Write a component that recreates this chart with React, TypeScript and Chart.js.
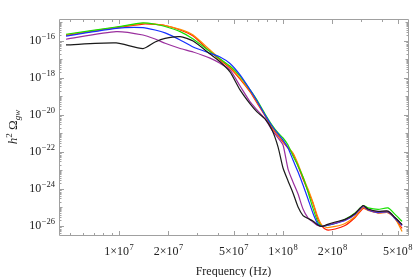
import React, { useEffect, useRef } from "react";
import { Chart, registerables } from "chart.js";

Chart.register(...registerables);

// Frequencies (Hz) of the sampled points
const frequencyHz = [
  4.75e6, 9.6e6, 1.4e7, 1.66e7, 1.91e7, 2.36e7, 2.83e7, 3.59e7, 4.13e7, 4.75e7,
  5.47e7, 6.3e7, 6.94e7, 7.77e7, 8.57e7, 9.33e7, 1.0e8, 1.073e8, 1.15e8, 1.235e8,
  1.324e8, 1.42e8, 1.52e8, 1.63e8, 1.73e8, 1.85e8, 2.08e8, 2.39e8, 2.75e8, 3.08e8,
  3.3e8, 3.8e8, 4.37e8, 4.82e8, 5.32e8,
];

// log10(h^2 Omega_gw), one array per curve
const redLog = [
  -15.71, -15.3, -15.1, -15.12, -15.18, -15.42, -15.75, -16.59, -17.04, -17.48,
  -18.07, -18.77, -19.37, -20.07, -20.72, -21.15, -21.48, -21.8, -22.12, -22.77,
  -23.48, -24.12, -24.77, -25.64, -26.04, -26.23, -26.18, -25.99, -25.56, -25.07,
  -25.15, -25.31, -25.29, -25.61, -26.15,
];
const orangeLog = [
  -15.68, -15.28, -15.06, -15.1, -15.18, -15.39, -15.69, -16.5, -16.99, -17.42,
  -18.02, -18.72, -19.31, -20.02, -20.66, -21.1, -21.43, -21.75, -22.07, -22.66,
  -23.37, -24.02, -24.72, -25.53, -25.99, -26.1, -26.04, -25.88, -25.5, -25.02,
  -25.18, -25.31, -25.29, -25.61, -26.31,
];
const greenLog = [
  -15.65, -15.26, -15.04, -15.11, -15.23, -15.51, -15.91, -16.59, -16.99, -17.37,
  -17.91, -18.66, -19.21, -19.96, -20.56, -20.99, -21.26, -21.64, -22.23, -22.77,
  -23.37, -24.18, -25.04, -25.8, -26.04, -25.99, -25.88, -25.66, -25.31, -24.91,
  -25.04, -25.12, -25.04, -25.39, -25.77,
];
const blueLog = [
  -15.75, -15.33, -15.29, -15.42, -15.58, -15.96, -16.34, -16.68, -16.88, -17.23,
  -17.85, -18.66, -19.26, -20.02, -20.61, -21.04, -21.37, -21.8, -22.45, -23.1,
  -23.8, -24.56, -25.31, -25.91, -26.04, -25.99, -25.88, -25.72, -25.39, -24.96,
  -25.15, -25.29, -25.26, -25.61, -25.99,
];
const purpleLog = [
  -15.92, -15.51, -15.69, -15.91, -16.14, -16.42, -16.61, -16.94, -17.22, -17.58,
  -18.45, -19.31, -19.74, -20.23, -20.83, -21.26, -21.64, -22.94, -23.64, -24.29,
  -25.1, -25.58, -25.8, -25.99, -26.04, -25.96, -25.85, -25.69, -25.37, -24.94,
  -25.12, -25.26, -25.23, -25.58, -25.96,
];
const blackLog = [
  -16.23, -16.12, -16.43, -16.07, -15.87, -15.78, -16.02, -16.72, -17.14, -17.69,
  -18.66, -19.42, -19.85, -20.23, -20.83, -21.75, -22.88, -23.58, -24.23, -24.99,
  -25.45, -25.61, -25.75, -25.96, -26.04, -25.94, -25.8, -25.66, -25.34, -24.91,
  -25.1, -25.23, -25.21, -25.56, -25.94,
];

// Axis ticks (labels as base + superscript)
const xTickValues = [1e7, 2e7, 5e7, 1e8, 2e8, 5e8];
const xTickBases = ["1×10", "2×10", "5×10", "1×10", "2×10", "5×10"];
const xTickSups = ["7", "7", "7", "8", "8", "8"];
const xMinorTicks = [5e6, 6e6, 7e6, 8e6, 9e6, 3e7, 4e7, 6e7, 7e7, 8e7, 9e7, 3e8, 4e8];
const yTickExponents = [-26, -24, -22, -20, -18, -16];
const yTickBases = ["10", "10", "10", "10", "10", "10"];
const yTickSups = ["−26", "−24", "−22", "−20", "−18", "−16"];
const yDecades = [-27, -26, -25, -24, -23, -22, -21, -20, -19, -18, -17, -16, -15];

const xTitle = "Frequency (Hz)";
const yTitleParts = [
  { t: "h", italic: true, size: 13, dy: 0 },
  { t: "2", italic: false, size: 9, dy: -5 },
  { t: " Ω", italic: false, size: 13, dy: 0 },
  { t: "gw", italic: true, size: 9, dy: 3 },
];

const FONT = "'Liberation Serif', 'Times New Roman', serif";

const seriesDefs = [
  { label: "black", color: "#1a1a1a", values: blackLog },
  { label: "purple", color: "#9a2f9e", values: purpleLog },
  { label: "blue", color: "#1530ff", values: blueLog },
  { label: "green", color: "#18e000", values: greenLog },
  { label: "orange", color: "#ff8a00", values: orangeLog },
  { label: "red", color: "#ff1a00", values: redLog },
];

function drawSupLabel(
  ctx: CanvasRenderingContext2D,
  base: string,
  sup: string,
  x: number,
  baseline: number,
  align: "center" | "right"
) {
  ctx.textAlign = "left";
  ctx.textBaseline = "alphabetic";
  ctx.font = `12px ${FONT}`;
  const wb = ctx.measureText(base).width;
  ctx.font = `8.5px ${FONT}`;
  const ws = ctx.measureText(sup).width;
  const total = wb + ws + 0.5;
  const x0 = align === "center" ? x - total / 2 : x - total;
  ctx.font = `12px ${FONT}`;
  ctx.fillText(base, x0, baseline);
  ctx.font = `8.5px ${FONT}`;
  ctx.fillText(sup, x0 + wb + 0.5, baseline - 5);
}

const framePlugin = {
  id: "frameAndTitles",
  afterDraw(chart: any) {
    const { ctx, chartArea: a, scales } = chart;
    const xs = scales.x;
    const ys = scales.y;
    ctx.save();
    ctx.strokeStyle = "#a0a0a0";
    ctx.lineWidth = 1;
    ctx.beginPath();
    ctx.moveTo(a.left + 0.5, a.top + 0.5);
    ctx.lineTo(a.right + 0.5, a.top + 0.5);
    ctx.lineTo(a.right + 0.5, a.bottom + 0.5);
    ctx.lineTo(a.left + 0.5, a.bottom + 0.5);
    ctx.closePath();
    ctx.stroke();

    ctx.beginPath();
    const xTick = (v: number, len: number) => {
      const px = Math.round(xs.getPixelForValue(v)) + 0.5;
      if (px < a.left || px > a.right + 1) return;
      ctx.moveTo(px, a.bottom);
      ctx.lineTo(px, a.bottom - len);
      ctx.moveTo(px, a.top + 1);
      ctx.lineTo(px, a.top + 1 + len);
    };
    xTickValues.forEach((v) => xTick(v, 4));
    xMinorTicks.forEach((v) => xTick(v, 2));

    const yTick = (v: number, len: number) => {
      const py = Math.round(ys.getPixelForValue(v)) + 0.5;
      if (py < a.top || py > a.bottom) return;
      ctx.moveTo(a.left + 1, py);
      ctx.lineTo(a.left + 1 + len, py);
      ctx.moveTo(a.right, py);
      ctx.lineTo(a.right - len, py);
    };
    yDecades.forEach((e) => {
      const major = yTickExponents.includes(e);
      yTick(Math.pow(10, e), major ? 4 : 2.5);
      for (let k = 2; k <= 9; k++) yTick(k * Math.pow(10, e), 1.5);
    });
    ctx.stroke();

    ctx.fillStyle = "#222";
    // tick labels
    xTickValues.forEach((v, i) => {
      const px = xs.getPixelForValue(v);
      drawSupLabel(ctx, xTickBases[i], xTickSups[i], px, 255, "center");
    });
    yTickExponents.forEach((e, i) => {
      const py = ys.getPixelForValue(Math.pow(10, e));
      drawSupLabel(ctx, yTickBases[i], yTickSups[i], a.left - 4, py + 3.8, "right");
    });

    // x title
    ctx.font = `12px ${FONT}`;
    ctx.textAlign = "center";
    ctx.textBaseline = "alphabetic";
    ctx.fillText(xTitle, (a.left + a.right) / 2, 275);

    // y title (rotated)
    ctx.translate(17, (a.top + a.bottom) / 2);
    ctx.rotate(-Math.PI / 2);
    ctx.textAlign = "left";
    let total = 0;
    const widths = yTitleParts.map((p) => {
      ctx.font = `${p.italic ? "italic " : ""}${p.size}px ${FONT}`;
      const w = ctx.measureText(p.t).width;
      total += w;
      return w;
    });
    let cx = -total / 2;
    yTitleParts.forEach((p, i) => {
      ctx.font = `${p.italic ? "italic " : ""}${p.size}px ${FONT}`;
      ctx.fillText(p.t, cx, p.dy);
      cx += widths[i];
    });
    ctx.restore();
  },
};

export default function App() {
  const ref = useRef<HTMLCanvasElement>(null);

  useEffect(() => {
    const canvas = ref.current;
    if (!canvas) return;
    const datasets = seriesDefs.map((s) => ({
      label: s.label,
      data: frequencyHz.map((f, i) => ({ x: f, y: Math.pow(10, s.values[i]) })),
      borderColor: s.color,
      backgroundColor: s.color,
      borderWidth: 1.2,
      pointRadius: 0,
      tension: 0.2,
      fill: false,
    }));

    const chart = new Chart(canvas, {
      type: "line",
      data: { datasets },
      plugins: [framePlugin],
      options: {
        animation: false,
        responsive: false,
        devicePixelRatio: 1,
        events: [],
        layout: { padding: { top: 19, right: 7, bottom: 0, left: 0 } },
        plugins: { legend: { display: false }, tooltip: { enabled: false }, title: { display: false } },
        scales: {
          x: {
            type: "logarithmic",
            min: Math.pow(10, 6.634),
            max: Math.pow(10, 8.762),
            grid: { display: false, drawTicks: false },
            border: { display: false },
            afterBuildTicks: (s: any) => {
              s.ticks = xTickValues.map((v) => ({ value: v }));
            },
            afterFit: (s: any) => {
              s.height = 42;
              s.paddingLeft = 0;
              s.paddingRight = 0;
            },
            ticks: { display: false },
          },
          y: {
            type: "logarithmic",
            min: Math.pow(10, -26.503),
            max: Math.pow(10, -14.827),
            grid: { display: false, drawTicks: false },
            border: { display: false },
            afterBuildTicks: (s: any) => {
              s.ticks = yTickExponents.map((e) => ({ value: Math.pow(10, e) }));
            },
            afterFit: (s: any) => {
              s.width = 59;
              s.paddingTop = 0;
              s.paddingBottom = 0;
            },
            ticks: { display: false },
          },
        },
      },
    } as any);

    return () => chart.destroy();
  }, []);

  return (
    <div style={{ position: "absolute", left: 0, top: 0, width: 415, height: 277, background: "#fff" }}>
      <canvas ref={ref} width={415} height={277} style={{ display: "block", width: 415, height: 277 }} />
    </div>
  );
}
